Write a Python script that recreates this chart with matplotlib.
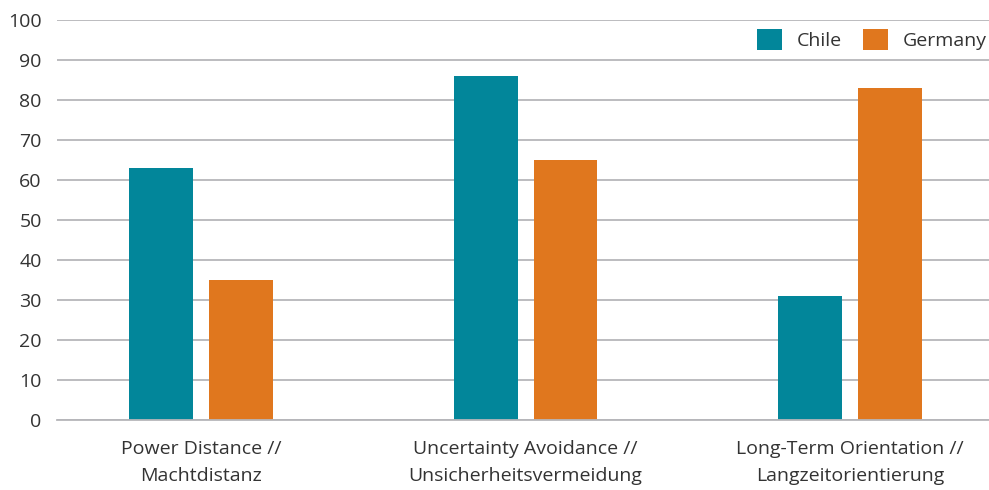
import matplotlib
matplotlib.use("Agg")
import matplotlib.pyplot as plt
import numpy as np

plt.rcParams['font.family'] = ['Open Sans', 'DejaVu Sans']

categories = ["Power Distance //\nMachtdistanz",
              "Uncertainty Avoidance //\nUnsicherheitsvermeidung",
              "Long-Term Orientation //\nLangzeitorientierung"]
chile = [63, 86, 31]
germany = [35, 65, 83]
series_names = ["Chile", "Germany"]
yticks = [0, 10, 20, 30, 40, 50, 60, 70, 80, 90, 100]

teal = "#02869a"
orange = "#e0771e"
grid_c = "#b6b6ba"
text_c = "#333333"

fig = plt.figure(figsize=(9.89, 4.90), dpi=100)
ax = fig.add_axes([57 / 989, 1 - 420 / 490, 1 - 57 / 989, 400 / 490])

x = np.arange(len(categories))
w = 0.197
off = 0.123
ax.bar(x - off, chile, width=w, color=teal, label=series_names[0], zorder=3)
ax.bar(x + off, germany, width=w, color=orange, label=series_names[1], zorder=3)

ax.set_xlim(-0.4438, 2.428)
ax.set_ylim(0, 100)
ax.set_yticks(yticks)
ax.set_xticks(x)
ax.set_xticklabels(categories, fontsize=14, color=text_c, linespacing=1.62)
ax.tick_params(axis='y', length=0, pad=11, labelsize=14, labelcolor=text_c)
ax.tick_params(axis='x', length=0, pad=14.5)

ax.yaxis.grid(True, color=grid_c, linewidth=1.3, zorder=0)
ax.set_axisbelow(True)
for s in ['top', 'right', 'left']:
    ax.spines[s].set_visible(False)
ax.spines['bottom'].set_color(grid_c)
ax.spines['bottom'].set_linewidth(1.3)
ax.spines['bottom'].set_zorder(4)

leg = ax.legend(loc='upper right', bbox_to_anchor=(1.0, 0.982), ncol=2, frameon=False,
                fontsize=14, handlelength=1.3, handleheight=1.3,
                handletextpad=0.75, columnspacing=1.1, borderaxespad=0.0,
                borderpad=0.1)
for t in leg.get_texts():
    t.set_color(text_c)

fig.savefig("out.png", dpi=100)
